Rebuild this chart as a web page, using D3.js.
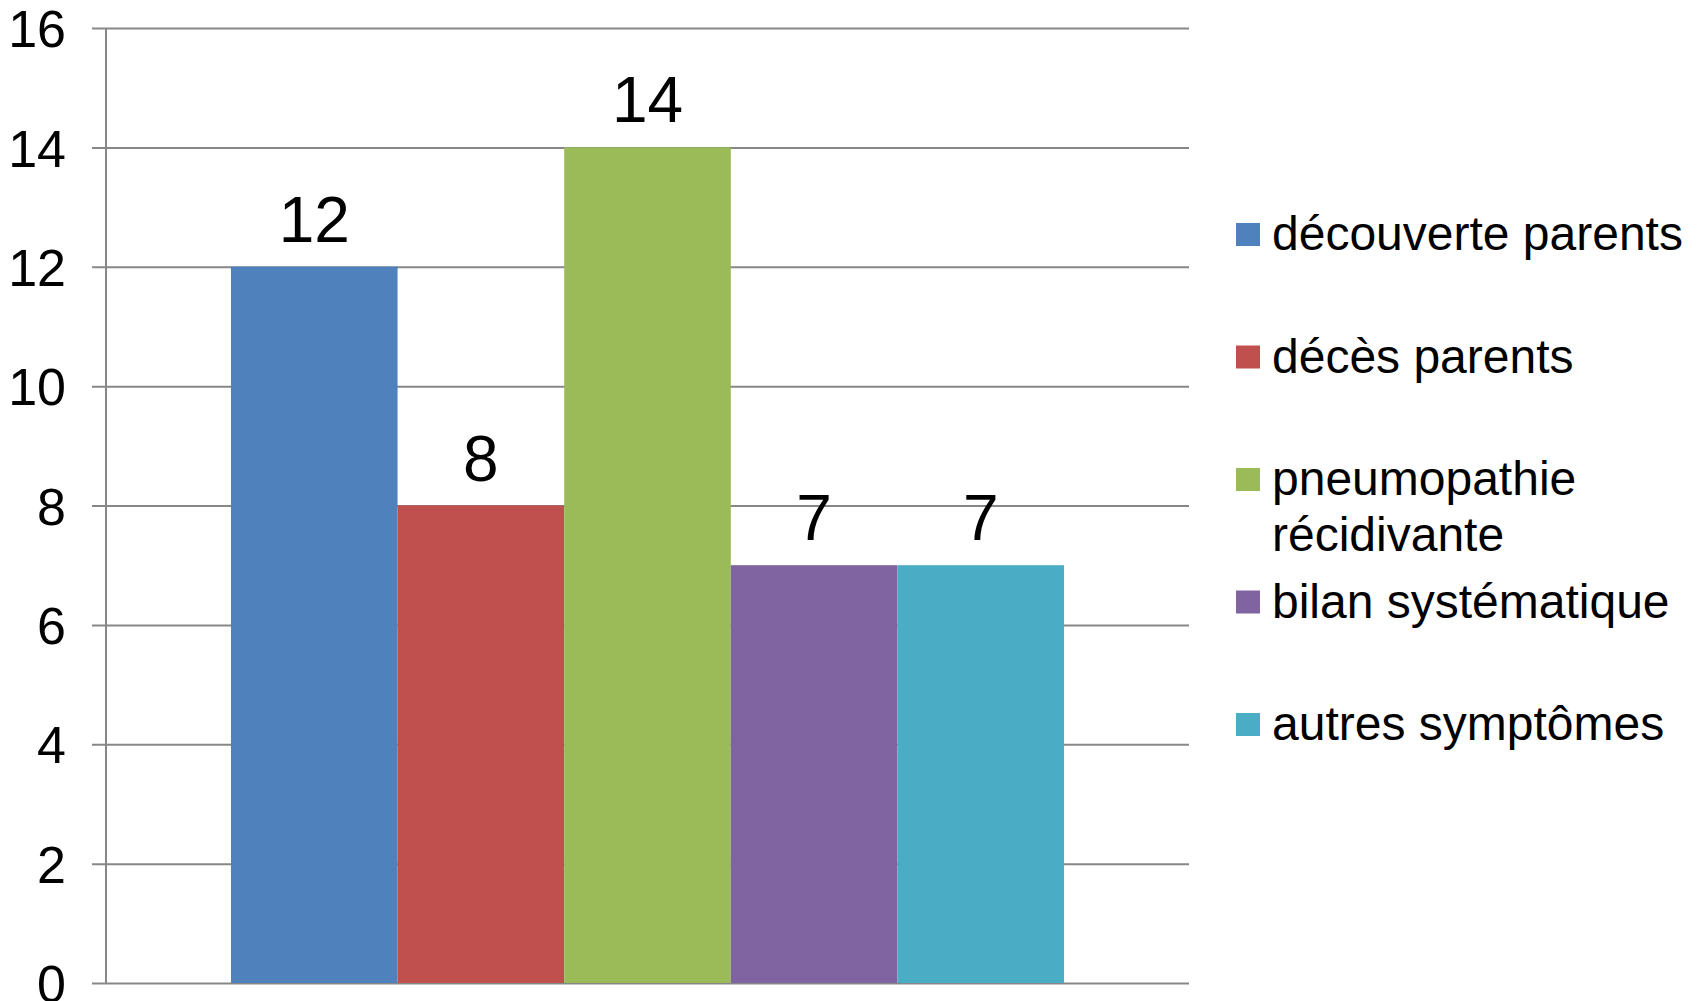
<!DOCTYPE html>
<html>
<head>
<meta charset="utf-8">
<script src="https://cdnjs.cloudflare.com/ajax/libs/d3/7.8.5/d3.min.js"></script>
<style>
  body { margin: 0; background: #fff; }
  text { font-family: "Liberation Sans", Arial, sans-serif; fill: #000; }
</style>
</head>
<body>
<div id="vis"></div>
<script>
// chart data
const SERIES = ["découverte parents", "décès parents", "pneumopathie récidivante", "bilan systématique", "autres symptômes"];
const VALUES = [12, 8, 14, 7, 7];
const COLORS = ["#4F81BD", "#C0504D", "#9BBB59", "#8064A2", "#4BACC6"];
const Y_TICKS = [0, 2, 4, 6, 8, 10, 12, 14, 16];
// legend lines (wrapped like the original)
const LEGEND_LINES = [["découverte parents"], ["décès parents"], ["pneumopathie", "récidivante"], ["bilan systématique"], ["autres symptômes"]];

const WIDTH = 1702;
const HEIGHT = 1001;
const MARG = {left: 106, right: 513, top: 28, bottom: 18};
const PLOT_RIGHT = WIDTH - MARG.right;
const PLOT_BOTTOM = HEIGHT - MARG.bottom;

const FRAME = d3.select("#vis")
    .append("svg")
        .attr("width", WIDTH)
        .attr("height", HEIGHT);

// scales
const Y_SCALE = d3.scaleLinear()
    .domain([0, 16])
    .range([PLOT_BOTTOM, MARG.top]);

const X0 = d3.scaleBand()
    .domain(["all"])
    .range([MARG.left, PLOT_RIGHT])
    .paddingInner(0)
    .paddingOuter(0.15);

const X1 = d3.scaleBand()
    .domain(SERIES)
    .range([X0("all"), X0("all") + X0.bandwidth()]);

// gridlines + y axis
const yAxis = FRAME.append("g")
    .attr("transform", "translate(" + MARG.left + ",0)")
    .call(d3.axisLeft(Y_SCALE).tickValues(Y_TICKS).tickSize(14).tickPadding(26));
yAxis.select(".domain").remove();
yAxis.selectAll(".tick line")
    .attr("stroke", "#878787")
    .attr("stroke-width", 2)
    .attr("x2", PLOT_RIGHT - MARG.left)
    .attr("x1", -14);
yAxis.selectAll(".tick text")
    .attr("font-size", "52px")
    .attr("dy", "0.36em");

// bars
FRAME.selectAll(".bar")
    .data(SERIES)
    .enter()
    .append("rect")
    .attr("class", "bar")
    .attr("x", (d) => X1(d))
    .attr("y", (d, i) => Y_SCALE(VALUES[i]))
    .attr("width", X1.bandwidth())
    .attr("height", (d, i) => Y_SCALE(0) - Y_SCALE(VALUES[i]))
    .attr("fill", (d, i) => COLORS[i]);

// vertical axis line
FRAME.append("line")
    .attr("x1", MARG.left).attr("x2", MARG.left)
    .attr("y1", MARG.top).attr("y2", Y_SCALE(0))
    .attr("stroke", "#878787")
    .attr("stroke-width", 2);

// value labels
FRAME.selectAll(".lbl")
    .data(SERIES)
    .enter()
    .append("text")
    .attr("class", "lbl")
    .attr("x", (d) => X1(d) + X1.bandwidth() / 2)
    .attr("y", (d, i) => Y_SCALE(VALUES[i]) - 25)
    .attr("text-anchor", "middle")
    .attr("font-size", "64px")
    .text((d, i) => VALUES[i]);

// legend
const LEG_X = 1236;
const LEG_Y = 250;
const LEG_STEP = 122.5;
const legend = FRAME.selectAll(".leg")
    .data(SERIES)
    .enter()
    .append("g")
    .attr("class", "leg")
    .attr("transform", (d, i) => "translate(" + LEG_X + "," + (LEG_Y + i * LEG_STEP) + ")");
legend.append("rect")
    .attr("x", 0)
    .attr("y", -27)
    .attr("width", 24)
    .attr("height", 23)
    .attr("fill", (d, i) => COLORS[i]);
legend.each(function(d, i) {
    const t = d3.select(this).append("text")
        .attr("x", 36)
        .attr("y", 0)
        .attr("font-size", "48px");
    LEGEND_LINES[i].forEach((line, j) => {
        t.append("tspan")
            .attr("x", 36)
            .attr("dy", j === 0 ? 0 : 56)
            .text(line);
    });
});
</script>
</body>
</html>
